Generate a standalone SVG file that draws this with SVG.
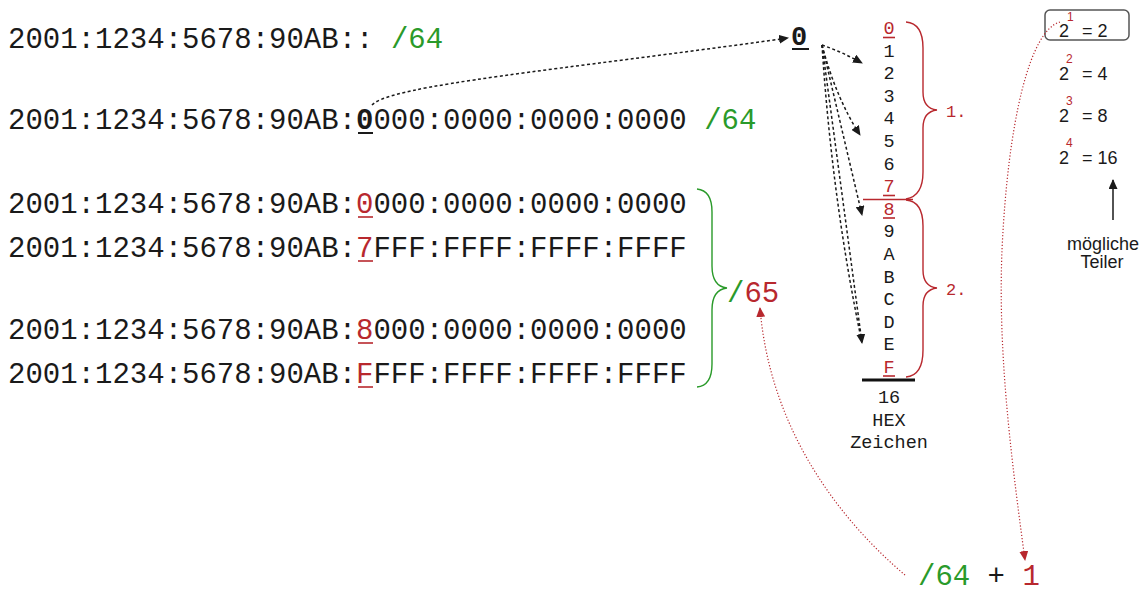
<svg xmlns="http://www.w3.org/2000/svg" width="1142" height="592" viewBox="0 0 1142 592">
  <style>
    .mono { font-family: "Liberation Mono", "DejaVu Sans Mono", monospace; fill: #1a1a1a; }
    .big { font-size: 29px; }
    .col { font-size: 18.5px; text-anchor: middle; }
    .sans { font-family: "Liberation Sans", Arial, sans-serif; fill: #1a1a1a; font-size: 18px; }
    .sup { font-family: "Liberation Sans", Arial, sans-serif; fill: #b8282e; font-size: 12px; }
    .red { fill: #b8282e; }
    .green { fill: #2a9a2a; }
    .ul-red { stroke: #b8282e; stroke-width: 1.6; }
    .ul-blk { stroke: #1a1a1a; stroke-width: 2; }
    .brace-red { fill: none; stroke: #b8282e; stroke-width: 1.4; }
    .brace-green { fill: none; stroke: #2a9a2a; stroke-width: 1.4; }
    .dash { fill: none; stroke: #1a1a1a; stroke-width: 1.5; stroke-dasharray: 3 2.5; }
    .dot-red { fill: none; stroke: #b8282e; stroke-width: 1.2; stroke-dasharray: 1.2 2; }
  </style>
  <defs>
    <marker id="arrow-black" markerUnits="userSpaceOnUse" markerWidth="10" markerHeight="9" refX="9" refY="4.5" orient="auto">
      <path d="M0,0 L10,4.5 L0,9 Z" fill="#1a1a1a"/>
    </marker>
    <marker id="arrow-red" markerUnits="userSpaceOnUse" markerWidth="10" markerHeight="9" refX="9" refY="4.5" orient="auto">
      <path d="M0,0 L10,4.5 L0,9 Z" fill="#b8282e"/>
    </marker>
  </defs>

  <rect width="1142" height="592" fill="#ffffff"/>

  <!-- prefix notation -->
  <g id="prefix-short">
    <text class="mono big" x="8" y="48">2001:1234:5678:90AB:: <tspan class="green">/64</tspan></text>
  </g>

  <g id="prefix-full">
    <text class="mono big" x="8" y="129">2001:1234:5678:90AB:<tspan font-weight="bold">0</tspan>000:0000:0000:0000 <tspan class="green">/64</tspan></text>
    <line class="ul-blk" x1="358" y1="133" x2="373" y2="133"/>
  </g>

  <!-- first /65 half -->
  <g id="range-first">
    <text class="mono big" x="8" y="213">2001:1234:5678:90AB:<tspan class="red">0</tspan>000:0000:0000:0000</text>
    <line class="ul-red" x1="358" y1="217" x2="373" y2="217"/>
    <text class="mono big" x="8" y="257">2001:1234:5678:90AB:<tspan class="red">7</tspan>FFF:FFFF:FFFF:FFFF</text>
    <line class="ul-red" x1="358" y1="261" x2="373" y2="261"/>
  </g>

  <!-- second /65 half -->
  <g id="range-second">
    <text class="mono big" x="8" y="339">2001:1234:5678:90AB:<tspan class="red">8</tspan>000:0000:0000:0000</text>
    <line class="ul-red" x1="358" y1="343" x2="373" y2="343"/>
    <text class="mono big" x="8" y="383">2001:1234:5678:90AB:<tspan class="red">F</tspan>FFF:FFFF:FFFF:FFFF</text>
    <line class="ul-red" x1="358" y1="387" x2="373" y2="387"/>
  </g>

  <g id="brace-65">
    <path class="brace-green" d="M697,189 C708,190 712,198 712,212 L712,266 C712,280 718,287 727,288 C718,289 712,296 712,310 L712,364 C712,378 708,386 697,387"/>
    <text class="mono big" x="727" y="302"><tspan class="green">/</tspan><tspan class="red">65</tspan></text>
  </g>

  <!-- the nibble that is split -->
  <g id="nibble">
    <text class="mono" font-size="27" font-weight="bold" x="791" y="45">0</text>
    <line class="ul-blk" x1="792" y1="49" x2="809" y2="49"/>
  </g>

  <!-- hex digit column -->
  <g id="hex-column">
    <text class="mono col red" x="889" y="34">0</text>
    <text class="mono col" x="889" y="56.6">1</text>
    <text class="mono col" x="889" y="79.2">2</text>
    <text class="mono col" x="889" y="101.8">3</text>
    <text class="mono col" x="889" y="124.4">4</text>
    <text class="mono col" x="889" y="147">5</text>
    <text class="mono col" x="889" y="169.6">6</text>
    <text class="mono col red" x="889" y="192.2">7</text>
    <text class="mono col red" x="889" y="214.8">8</text>
    <text class="mono col" x="889" y="237.4">9</text>
    <text class="mono col" x="889" y="260">A</text>
    <text class="mono col" x="889" y="282.6">B</text>
    <text class="mono col" x="889" y="305.2">C</text>
    <text class="mono col" x="889" y="327.8">D</text>
    <text class="mono col" x="889" y="350.4">E</text>
    <text class="mono col red" x="889" y="373">F</text>
    <line class="ul-red" x1="883" y1="37.5" x2="895" y2="37.5"/>
    <line class="ul-red" x1="883" y1="195.5" x2="895" y2="195.5"/>
    <line class="ul-red" x1="863" y1="199.5" x2="913" y2="199.5"/>
    <line class="ul-red" x1="883" y1="218" x2="895" y2="218"/>
    <line class="ul-red" x1="883" y1="376" x2="895" y2="376"/>
    <line x1="862" y1="380" x2="915" y2="380" stroke="#111" stroke-width="3"/>
    <text class="mono col" x="889" y="403">16</text>
    <text class="mono col" x="889" y="425.5">HEX</text>
    <text class="mono col" x="889" y="448">Zeichen</text>
  </g>

  <g id="half-1">
    <path class="brace-red" d="M906,22 C918,23 923,32 923,48 L923,92 C923,104 928,109 937,110 C928,111 923,116 923,128 L923,172 C923,188 918,197 906,199"/>
    <text class="mono red" font-size="17" x="946" y="117">1.</text>
  </g>

  <g id="half-2">
    <path class="brace-red" d="M906,200 C918,201 923,210 923,226 L923,270 C923,282 928,287 937,288 C928,289 923,294 923,306 L923,350 C923,366 918,376 906,377"/>
    <text class="mono red" font-size="17" x="946" y="295">2.</text>
  </g>

  <!-- powers of two -->
  <g id="powers">
    <rect x="1045" y="10" width="84" height="30" rx="5" fill="none" stroke="#555" stroke-width="1.5"/>
    <text class="sans" x="1059" y="37">2</text><text class="sup" x="1067" y="21">1</text><text class="sans" x="1082" y="37">= 2</text>
    <text class="sans" x="1059" y="80">2</text><text class="sup" x="1066" y="63">2</text><text class="sans" x="1082" y="80">= 4</text>
    <text class="sans" x="1059" y="122">2</text><text class="sup" x="1066" y="105">3</text><text class="sans" x="1082" y="122">= 8</text>
    <text class="sans" x="1059" y="164">2</text><text class="sup" x="1066" y="147">4</text><text class="sans" x="1082" y="164">= 16</text>
  </g>

  <g id="divisors">
    <text class="sans" x="1103" y="250" text-anchor="middle">mögliche</text>
    <text class="sans" x="1102" y="268" text-anchor="middle">Teiler</text>
  </g>

  <!-- result -->
  <g id="sum">
    <text class="mono big" x="918" y="585"><tspan class="green">/64</tspan> + <tspan class="red">1</tspan></text>
  </g>

  <g id="connectors">
    <path class="dash" d="M372,105 C390,85 560,70 788,38" marker-end="url(#arrow-black)"/>
    <path class="dash" d="M822,45 Q842,52 862,63" marker-end="url(#arrow-black)"/>
    <path class="dash" d="M822,45 Q836,98 860,135" marker-end="url(#arrow-black)"/>
    <path class="dash" d="M822,45 L862,215" marker-end="url(#arrow-black)"/>
    <path class="dash" d="M822,45 L862,343" marker-end="url(#arrow-black)"/>
    <path class="dash" d="M822,45 Q832,200 862,343"/>
    <path d="M1113,220 L1113,180" fill="none" stroke="#1a1a1a" stroke-width="1.5" marker-end="url(#arrow-black)"/>
    <path class="dot-red" d="M1060,22 C1030,30 1008,120 1002,250 C998,350 1010,450 1025,560" marker-end="url(#arrow-red)"/>
    <path class="dot-red" d="M905,575 C840,520 770,430 760,308" marker-end="url(#arrow-red)"/>
  </g>
</svg>
